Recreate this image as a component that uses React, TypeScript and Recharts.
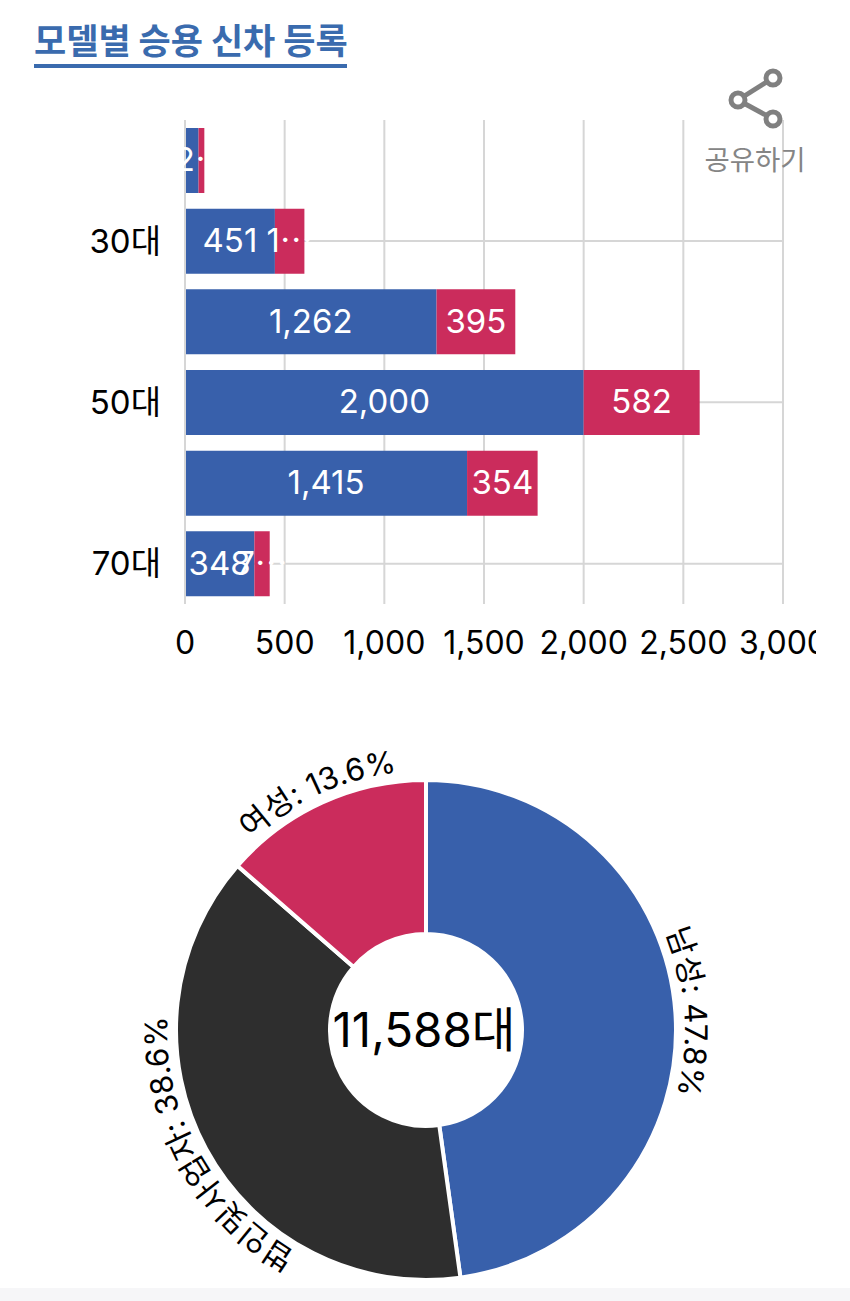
import { Bar, BarChart, CartesianGrid, Cell, LabelList, Pie, PieChart, XAxis, YAxis } from "recharts";

const AGE_GROUPS = ["20대", "30대", "40대", "50대", "60대", "70대"];
const AGE_TICKS = ["30대", "50대", "70대"];
const MALE_VALUES = [68, 451, 1262, 2000, 1415, 348];
const FEMALE_VALUES = [29, 148, 395, 582, 354, 77];
// labels as they appear in the picture, long ones are cut off by the bar width
const MALE_LABELS = ["", "451", "1,262", "2,000", "1,415", "348"];
const FEMALE_LABELS = ["2⋯", "1⋯", "395", "582", "354", "7⋯"];
const VALUE_TICKS = [0, 500, 1000, 1500, 2000, 2500, 3000];

const SHARE_NAMES = ["남성", "법인및사업자", "여성"];
const SHARE_VALUES = [47.8, 38.6, 13.6];
const TOTAL_LABEL = "11,588대";

const BLUE = "#3860AB";
const RED = "#CB2C5C";
const DARK = "#2E2E2E";
const GRID = "#D6D6D6";
const SHARE_COLORS = [BLUE, DARK, RED];
const FONT = 'Inter, "Noto Sans CJK KR", sans-serif';
const KR_FONT = '"Noto Sans CJK KR", sans-serif';

const barData = AGE_GROUPS.map((age, i) => ({
  age,
  male: MALE_VALUES[i],
  female: FEMALE_VALUES[i],
}));

const pieData = SHARE_NAMES.map((name, i) => ({ name, value: SHARE_VALUES[i] }));

function barLabel(labels: string[]) {
  return (props: any) => {
    const { x, y, width, height, index } = props;
    return (
      <text
        x={Number(x) + Number(width) / 2}
        y={Number(y) + Number(height) / 2}
        dy="0.33em"
        textAnchor="middle"
        fill="#fff"
        fontSize={33}
        fontFamily={FONT}
      >
        {labels[index]}
      </text>
    );
  };
}

/** Slice label written along a circle outside the pie, reading clockwise. */
function ArcLabel(props: any) {
  const { cx, cy, midAngle, outerRadius, name, value, index } = props;
  const r = outerRadius + 9;
  const rad = (-midAngle * Math.PI) / 180;
  // the path starts opposite the slice and runs all the way round
  const sx = cx - r * Math.cos(rad);
  const sy = cy - r * Math.sin(rad);
  const ex = cx + r * Math.cos(rad);
  const ey = cy + r * Math.sin(rad);
  const id = `arc-label-${index}`;
  return (
    <g>
      <path id={id} d={`M ${sx} ${sy} A ${r} ${r} 0 0 1 ${ex} ${ey} A ${r} ${r} 0 0 1 ${sx} ${sy}`} fill="none" />
      <text fontSize={31} fontFamily={FONT} fill="#000" textAnchor="middle">
        <textPath href={`#${id}`} startOffset="50%">
          {`${name}: ${value.toFixed(1)}%`}
        </textPath>
      </text>
    </g>
  );
}

function ShareIcon() {
  return (
    <svg width={60} height={64} style={{ position: "absolute", left: 726, top: 68 }}>
      <g stroke="#808080" strokeWidth={5} fill="#fff">
        <line x1={47} y1={10} x2={12} y2={32} />
        <line x1={12} y1={32} x2={47} y2={51} />
        <circle cx={47} cy={10} r={7} />
        <circle cx={12} cy={32} r={7} />
        <circle cx={47} cy={51} r={7} />
      </g>
    </svg>
  );
}

export default function App() {
  return (
    <div
      style={{
        position: "absolute",
        left: 0,
        top: 0,
        width: 850,
        height: 1301,
        overflow: "hidden",
        background: "#fff",
        fontFamily: FONT,
      }}
    >
      <div
        style={{
          position: "absolute",
          left: 34,
          top: 14,
          width: 313,
          height: 50,
          borderBottom: "4px solid #3A6BAE",
          color: "#3A6BAE",
          fontFamily: KR_FONT,
          fontWeight: 700,
          fontSize: 35,
          lineHeight: "50px",
          whiteSpace: "nowrap",
        }}
      >
        모델별 승용 신차 등록
      </div>

      <div style={{ position: "absolute", left: 0, top: 0 }}>
        <BarChart
          width={816}
          height={680}
          data={barData}
          layout="vertical"
          margin={{ top: 120, right: 33, bottom: 0, left: 0 }}
          barSize={65}
        >
          <CartesianGrid stroke={GRID} strokeWidth={2} syncWithTicks />
          <XAxis
            type="number"
            domain={[0, 3000]}
            ticks={VALUE_TICKS}
            interval={0}
            height={76}
            axisLine={false}
            tickLine={false}
            tickMargin={21}
            tick={{ fontSize: 32, fill: "#000", fontFamily: FONT }}
            tickFormatter={(v: number) => v.toLocaleString("en-US")}
          />
          <YAxis
            type="category"
            dataKey="age"
            ticks={AGE_TICKS}
            interval={0}
            width={185}
            axisLine={{ stroke: GRID, strokeWidth: 2 }}
            tickLine={false}
            tickMargin={18}
            tick={{ fontSize: 33, fill: "#000", fontFamily: FONT }}
          />
          <Bar dataKey="male" stackId="a" fill={BLUE} isAnimationActive={false}>
            <LabelList dataKey="male" content={barLabel(MALE_LABELS)} />
          </Bar>
          <Bar dataKey="female" stackId="a" fill={RED} isAnimationActive={false}>
            <LabelList dataKey="female" content={barLabel(FEMALE_LABELS)} />
          </Bar>
        </BarChart>
      </div>

      <ShareIcon />
      <div
        style={{
          position: "absolute",
          left: 695,
          top: 140,
          width: 120,
          textAlign: "center",
          color: "#858585",
          fontFamily: KR_FONT,
          fontSize: 27.5,
          lineHeight: "36px",
        }}
      >
        공유하기
      </div>

      <div style={{ position: "absolute", left: 0, top: 700 }}>
        <PieChart width={850} height={601} margin={{ top: 0, right: 0, bottom: 0, left: 0 }}>
          <Pie
            data={pieData}
            dataKey="value"
            nameKey="name"
            cx={426}
            cy={330}
            innerRadius={96}
            outerRadius={250}
            startAngle={90}
            endAngle={-270}
            stroke="#fff"
            strokeWidth={4}
            label={ArcLabel}
            labelLine={false}
            isAnimationActive={false}
          >
            {pieData.map((d, i) => (
              <Cell key={d.name} fill={SHARE_COLORS[i]} />
            ))}
          </Pie>
          <text x={424} y={330} dy="0.36em" textAnchor="middle" fontSize={47.5} fill="#000" fontFamily={FONT}>
            {TOTAL_LABEL}
          </text>
        </PieChart>
      </div>

      <div style={{ position: "absolute", left: 0, top: 1288, width: 850, height: 13, background: "#F6F6F8" }} />
    </div>
  );
}
